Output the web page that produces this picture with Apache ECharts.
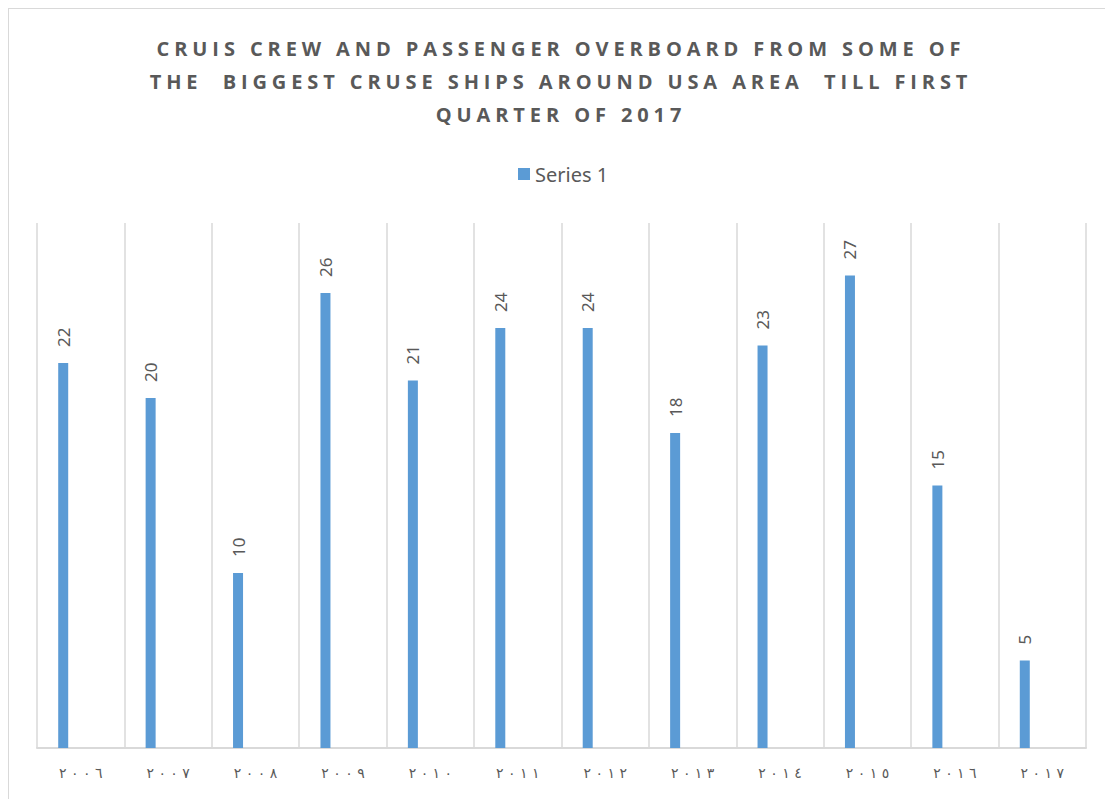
<!DOCTYPE html>
<html>
<head>
<meta charset="utf-8">
<script src="https://cdn.jsdelivr.net/npm/echarts@6/dist/echarts.min.js"></script>
<style>
    html, body { margin: 0; padding: 0; background: #fff; overflow: hidden; }
    #main {
        position: absolute;
        left: 8px;
        top: 8px;
        width: 1104px;
        height: 800px;
        border: 1px solid #d9d9d9;
    }
    /* the title is spaced out in the original */
    #main text[style*="Open Sans"] { letter-spacing: 4.9px; }
</style>
</head>
<body>
<div id="main"></div>
<script>
// years, written with Arabic-Indic digits as in the original
var years = ['٢٠٠٦', '٢٠٠٧', '٢٠٠٨', '٢٠٠٩', '٢٠١٠', '٢٠١١', '٢٠١٢', '٢٠١٣', '٢٠١٤', '٢٠١٥', '٢٠١٦', '٢٠١٧']
// overboard count per year
var series1 = [22, 20, 10, 26, 21, 24, 24, 18, 23, 27, 15, 5]

var titleText = 'CRUIS CREW AND PASSENGER OVERBOARD FROM SOME OF\nTHE  BIGGEST CRUSE SHIPS AROUND USA AREA  TILL FIRST\nQUARTER OF 2017'

var myChart = echarts.init(document.getElementById('main'), null, { renderer: 'svg' })

myChart.setOption({
    animation: false,
    title: {
        text: titleText,
        left: 'center',
        top: 23,
        padding: 0,
        textStyle: {
            fontFamily: 'Open Sans',
            fontWeight: 'bold',
            fontSize: 20,
            lineHeight: 33,
            color: '#595959'
        }
    },
    legend: {
        data: ['Series 1'],
        top: 155,
        left: 509,
        padding: 0,
        icon: 'rect',
        itemWidth: 12,
        itemHeight: 12,
        textStyle: {
            fontFamily: 'Noto Sans',
            fontSize: 20,
            color: '#595959'
        }
    },
    grid: {
        left: 28,
        right: 27,
        top: 214,
        bottom: 61,
        containLabel: false
    },
    xAxis: {
        type: 'category',
        data: years,
        axisLine: {
            lineStyle: { color: '#d9d9d9', width: 2 }
        },
        axisTick: { show: false },
        splitLine: {
            show: true,
            lineStyle: { color: '#d9d9d9', width: 1.5 }
        },
        axisLabel: {
            margin: 18,
            fontFamily: 'DejaVu Sans',
            fontSize: 14,
            color: '#595959',
            // the original shows the digits spread out
            formatter: function (v) {
                return v.split('').join('\u200E \u200E')
            }
        }
    },
    yAxis: {
        type: 'value',
        min: 0,
        max: 30,
        show: false
    },
    series: [
        {
            name: 'Series 1',
            type: 'bar',
            data: series1,
            barWidth: 10,
            barGap: '250%',
            itemStyle: { color: '#5B9BD5' },
            label: {
                show: true,
                position: 'top',
                distance: 16,
                rotate: 90,
                align: 'left',
                verticalAlign: 'middle',
                fontFamily: 'Noto Sans',
                fontSize: 17,
                color: '#595959'
            }
        },
        {
            // empty second series, keeps the blue bars on the left of each slot
            name: 'blank',
            type: 'bar',
            data: [],
            barWidth: 10
        }
    ]
})

window.addEventListener('resize', myChart.resize)
</script>
</body>
</html>
